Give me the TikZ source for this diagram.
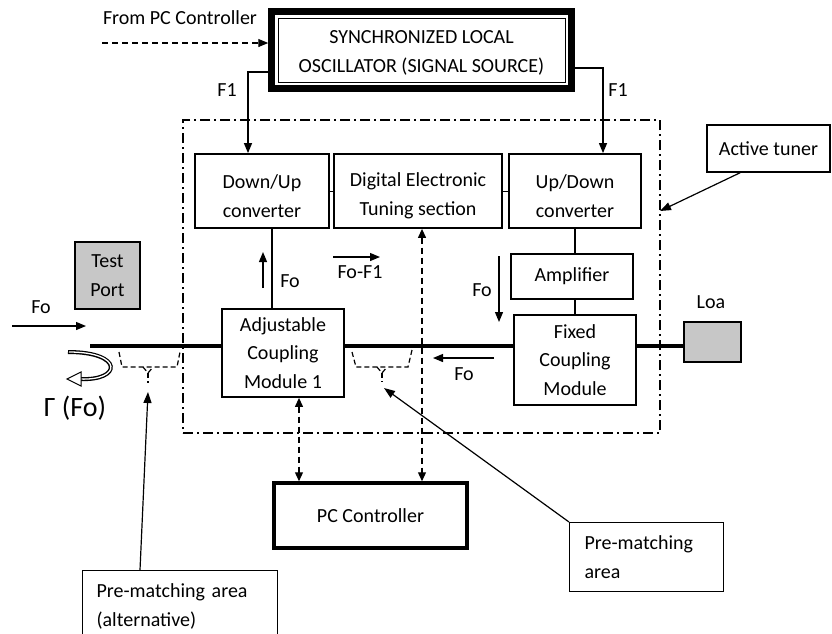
\documentclass[tikz,border=0pt]{standalone}
\usepackage{fontspec}
\setmainfont{Carlito}
\usetikzlibrary{arrows.meta}
\begin{document}
\begin{tikzpicture}[x=1pt,y=-1pt,
  txt/.style={font=\fontsize{20}{28.5}\selectfont, align=center},
  box/.style={draw, line width=1.8pt, inner sep=0pt, txt},
  lowtxt/.style={txt, yshift=-5pt},
  tri/.style={-{Triangle[length=10pt,width=8pt]}},
  thinarr/.style={tri, line width=1.2pt},
  darr/.style={{Triangle[length=9pt,width=8pt]}-{Triangle[length=9pt,width=8pt]}, line width=1.2pt, dash pattern=on 6pt off 4pt},
  mainln/.style={line width=4pt},
  bracket/.style={line width=1.2pt, dash pattern=on 5pt off 3pt},
  leader/.style={line width=1.2pt, -{Triangle[length=11pt,width=8pt]}}]
\useasboundingbox (0,0) rectangle (832,633);

% dash-dot active tuner frame
\node[draw, line width=1.8pt, dash pattern=on 10pt off 4pt on 2pt off 4pt,
      minimum width=477pt, minimum height=313pt, inner sep=0pt] (tuner) at (421.5,276.5) {};

% synchronized local oscillator
\node[box, line width=1pt, minimum width=287pt, minimum height=64pt,
      label={[font=\fontsize{20}{29}\selectfont, align=center, yshift=-2.5pt]center:SYNCHRONIZED LOCAL\\OSCILLATOR (SIGNAL SOURCE)}] (slo) at (421.5,50) {};
\node[draw, line width=6.5pt, minimum width=300pt, minimum height=77pt, inner sep=0pt] (sloout) at (421.5,50) {};

\node[txt] (frompc) at (180,18) {From PC Controller};
\coordinate (fpcs) at (102,43);
\draw[tri, line width=1.2pt, dash pattern=on 6pt off 4pt] (fpcs) -- (fpcs -| sloout.west);

% converters and tuning section
\node[box, minimum width=134pt, minimum height=74pt, label={[lowtxt]center:Down/Up\\converter}] (du) at (262,191) {};
\node[box, minimum width=168pt, minimum height=74pt, label={[lowtxt]center:Digital Electronic\\Tuning section}] (dets) at (418,191) {};
\node[box, minimum width=132pt, minimum height=74pt, label={[lowtxt]center:Up/Down\\converter}] (ud) at (575,191) {};
\draw[line width=1pt] (du.east) -- (dets.west);
\draw[line width=1pt] (dets.east) -- (ud.west);

% F1 connections
\coordinate (f1l) at (248,72);
\coordinate (f1r) at (603,68);
\draw[thinarr] (f1l -| sloout.west) -- (f1l) -- (f1l |- du.north);
\draw[thinarr] (f1r -| sloout.east) -- (f1r) -- (f1r |- ud.north);
\node[txt] (f1la) at (227,90) {F1};
\node[txt] (f1ra) at (618,90) {F1};

% coupling modules, amplifier
\node[box, minimum width=122pt, minimum height=88pt] (adj) at (283,353) {Adjustable\\Coupling\\Module 1};
\node[box, minimum width=122pt, minimum height=90pt] (fix) at (575,360) {Fixed\\Coupling\\Module};
\node[box, minimum width=122pt, minimum height=45pt] (amp) at (572,276.5) {Amplifier};

\draw[line width=1.2pt] ([xshift=10pt]du.south) -- ([xshift=10pt]du.south |- adj.north);
\draw[line width=1.2pt] (ud.south) -- (ud.south |- amp.north);
\draw[line width=1.2pt] (ud.south |- amp.south) -- (ud.south |- fix.north);

% test port and load
\node[box, line width=1.2pt, fill=black!22, minimum width=65pt, minimum height=67pt] (tp) at (107.5,275.5) {Test\\Port};
\node[draw, line width=1.2pt, fill=black!22, minimum width=57pt, minimum height=40pt, inner sep=0pt] (loa) at (712.5,342) {};
\node[txt] (loalab) at (711,302) {Loa};

% main line
\coordinate (ml) at (90,346);
\draw[mainln] (ml) -- (ml -| adj.west);
\draw[mainln] (ml -| adj.east) -- (ml -| fix.west);
\draw[mainln] (ml -| fix.east) -- (ml -| loa.west);

% PC controller
\node[box, line width=3.5pt, minimum width=193pt, minimum height=65pt] (pc) at (370.5,515.5) {PC Controller};
\coordinate (d1) at (299,0);
\coordinate (d2) at (422,0);
\draw[darr] (d1 |- adj.south) -- (d1 |- pc.north);
\draw[darr] (d2 |- dets.south) -- (d2 |- pc.north);

% signal arrows
\coordinate (a1s) at (263,288); \coordinate (a1e) at (263,252);
\draw[thinarr] (a1s) -- (a1e);
\node[txt] (fo1) at (290,281) {Fo};
\coordinate (a2s) at (333,257); \coordinate (a2e) at (380,257);
\draw[thinarr] (a2s) -- (a2e);
\node[txt] (fof1) at (360,272) {Fo-F1};
\coordinate (a3s) at (499,256); \coordinate (a3e) at (499,322);
\draw[thinarr] (a3s) -- (a3e);
\node[txt] (fo3) at (482,290) {Fo};
\coordinate (a4s) at (494,358); \coordinate (a4e) at (433,358);
\draw[thinarr] (a4s) -- (a4e);
\node[txt] (fo4) at (464,374) {Fo};
\coordinate (a5s) at (12,326); \coordinate (a5e) at (86,326);
\draw[thinarr] (a5s) -- (a5e);
\node[txt] (fo5) at (41,307) {Fo};

% reflection curved arrow
\coordinate (r1) at (68,352);
\coordinate (r2) at (80,379);
\draw[line width=4pt] (r1) .. controls (124,352) and (122,381) .. (r2);
\draw[white, line width=1.3pt] ([xshift=1pt]r1) .. controls (124,352) and (122,381) .. (r2);
\draw[line width=1pt, fill=white] (67,379) -- (81,372) -- (81,386) -- cycle;
\node[font=\fontsize{28}{30}\selectfont] (gamma) at (75,408) {Γ (Fo)};

% pre-matching brackets
\draw[bracket] (119,352) -- (122,367) -- (177,367) -- (180,352);
\draw[bracket] (143,367) -- (148,373) -- (153,367);
\draw[bracket] (148,373) -- (148,383);
\draw[bracket] (352,352) -- (356,367) -- (408,367) -- (412,350);
\draw[bracket] (377,367) -- (382,373) -- (387,367);
\draw[bracket] (382,373) -- (382,382);
\coordinate (tipL) at (148,392);
\coordinate (tipR) at (384,388);

% callouts
\node[draw, line width=1.2pt, txt, minimum width=123pt, minimum height=47pt, inner sep=0pt] (act) at (768.5,148.5) {Active tuner};
\coordinate (acttip) at (660,211);
\draw[leader] ([xshift=34pt]act.south west) -- (acttip);

\node[draw, line width=1.2pt, txt, align=left, anchor=north west, minimum width=154pt, minimum height=69pt,
      text width=124pt, inner xsep=15pt, inner ysep=0pt] (pmr) at (569,522) {Pre-matching\\area};
\draw[leader] (pmr.north west) -- (tipR);

\node[draw, line width=1.2pt, txt, align=left, anchor=north west, minimum width=195pt, minimum height=72pt,
      text width=167pt, inner xsep=14pt, inner ysep=0pt] (pma) at (82,570) {Pre-matching area\\(alternative)};
\draw[leader] ([xshift=58pt]pma.north west) -- (tipL);
\end{tikzpicture}
\end{document}
